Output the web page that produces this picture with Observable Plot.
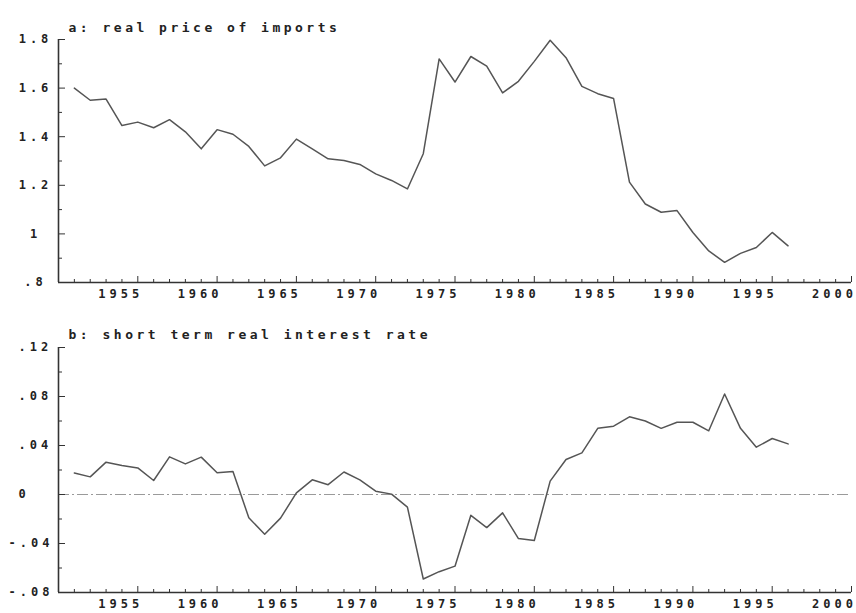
<!DOCTYPE html>
<html><head><meta charset="utf-8">
<script src="https://cdn.jsdelivr.net/npm/d3@7"></script>
<script src="https://cdn.jsdelivr.net/npm/@observablehq/plot@0.6"></script>
<style>
body{margin:0;background:#fff}
#chart svg{display:block}
#chart svg text{letter-spacing:4px;font-weight:bold !important}
</style></head><body><div id="chart"></div>
<script>
const years = [1951,1952,1953,1954,1955,1956,1957,1958,1959,1960,
  1961,1962,1963,1964,1965,1966,1967,1968,1969,1970,
  1971,1972,1973,1974,1975,1976,1977,1978,1979,1980,
  1981,1982,1983,1984,1985,1986,1987,1988,1989,1990,
  1991,1992,1993,1994,1995,1996];
const importPrice = [1.60,1.55,1.555,1.446,1.46,1.437,1.47,1.42,1.35,1.429,
  1.41,1.36,1.28,1.313,1.39,1.35,1.309,1.302,1.286,1.247,
  1.22,1.185,1.33,1.72,1.625,1.73,1.69,1.58,1.628,1.71,
  1.797,1.725,1.607,1.577,1.557,1.213,1.123,1.089,1.096,1.006,
  0.93,0.883,0.92,0.944,1.006,0.951];
const interestRate = [0.0176,0.0144,0.0264,0.0237,0.0217,0.0114,0.0307,0.025,0.0305,0.0178,
  0.0188,-0.019,-0.0325,-0.0193,0.0013,0.012,0.008,0.0184,0.012,0.0027,
  0.0003,-0.0103,-0.069,-0.063,-0.0585,-0.017,-0.027,-0.015,-0.036,-0.0376,
  0.0109,0.0286,0.034,0.054,0.0558,0.0634,0.06,0.054,0.059,0.059,
  0.052,0.082,0.054,0.0386,0.0457,0.0413];

const titleA = "a: real price of imports";
const titleB = "b: short term real interest rate";
const xDomain = [1950, 2000];
const xMajor = [1955,1960,1965,1970,1975,1980,1985,1990,1995,2000];
const xMinor = [1951,1952,1953,1954,1956,1957,1958,1959,1961,1962,1963,1964,1966,1967,1968,1969,
  1971,1972,1973,1974,1976,1977,1978,1979,1981,1982,1983,1984,1986,1987,1988,1989,
  1991,1992,1993,1994,1996,1997,1998,1999];
const yDomainA = [0.8, 1.8];
const yMajorA = [0.8,1,1.2,1.4,1.6,1.8];
const yMinorA = [0.9,1.1,1.3,1.5,1.7];
const yDomainB = [-0.08, 0.12];
const yMajorB = [-0.08,-0.04,0,0.04,0.08,0.12];
const yMinorB = [-0.06,-0.02,0.02,0.06,0.10];

const fmt = d => String(+d.toFixed(2)).replace(/^(-?)0\./, "$1.");

function panel(o) {
  const data = years.map((yr, i) => ({year: yr, v: o.values[i]}));
  const yLabelMarks = o.splitLabels
    ? [
        Plot.axisY(o.yMajor.filter(d => d >= 0), {label: null, tickSize: 0, tickPadding: 40, textAnchor: "start", tickFormat: fmt}),
        Plot.axisY(o.yMajor.filter(d => d < 0), {label: null, tickSize: 0, tickPadding: 50, textAnchor: "start", tickFormat: fmt})
      ]
    : [Plot.axisY(o.yMajor, {label: null, tickSize: 0, tickPadding: 23, textAnchor: "middle", tickFormat: fmt})];
  const svg = Plot.plot({
    width: 856, height: o.height,
    marginLeft: 58, marginRight: 5, marginTop: o.marginTop, marginBottom: o.marginBottom,
    style: {fontFamily: "'DejaVu Sans Mono', monospace", fontSize: "12px", fontWeight: "bold", color: "#222", background: "#fff", overflow: "visible"},
    x: {domain: xDomain, axis: null},
    y: {domain: o.yDomain, axis: null},
    marks: [
      ...(o.zero ? [Plot.ruleY([0], {stroke: "#9a9a9a", strokeWidth: 1, strokeDasharray: "11,3,2,3"})] : []),
      Plot.axisX(xMinor, {label: null, tickSize: -3, text: null, stroke: "#333"}),
      Plot.axisX(xMajor, {label: null, tickSize: -6, text: null, stroke: "#333"}),
      Plot.axisX(xMajor, {label: null, tickSize: 0, tickPadding: 7, dx: -17, tickFormat: d => String(d)}),
      Plot.axisY(o.yMinor, {label: null, tickSize: -4, text: null, stroke: "#333"}),
      Plot.axisY(o.yMajor, {label: null, tickSize: -7, text: null, stroke: "#333"}),
      ...yLabelMarks,
      Plot.ruleX([xDomain[0]], {stroke: "#333", strokeWidth: 1.6}),
      Plot.ruleY([o.yDomain[0]], {stroke: "#333", strokeWidth: 1.6}),
      Plot.line(data, {x: "year", y: "v", stroke: "#555", strokeWidth: 1.5}),
      Plot.text([o.title], {frameAnchor: "top-left", dx: 10, dy: o.titleDy, textAnchor: "start", lineAnchor: "bottom", fontSize: 13, fill: "#222"})
    ]
  });
  d3.select(svg).selectAll("g[aria-label='text'] text").style("letter-spacing", "3.5px");
  return svg;
}

const chart = document.getElementById("chart");
chart.appendChild(panel({title: titleA, values: importPrice, yDomain: yDomainA, yMajor: yMajorA, yMinor: yMinorA,
  height: 306, marginTop: 39, marginBottom: 24, titleDy: -8, splitLabels: false, zero: false}));
chart.appendChild(panel({title: titleB, values: interestRate, yDomain: yDomainB, yMajor: yMajorB, yMinor: yMinorB,
  height: 307, marginTop: 41, marginBottom: 21, titleDy: -9, splitLabels: true, zero: true}));
</script></body></html>
